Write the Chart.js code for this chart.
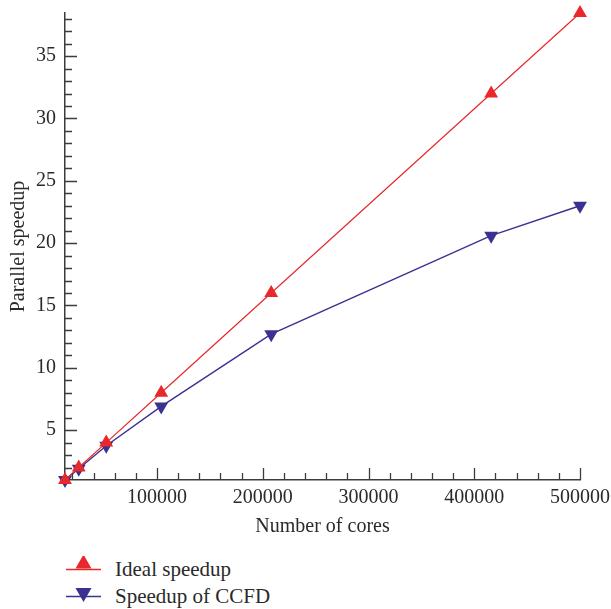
<!DOCTYPE html>
<html>
<head>
<meta charset="utf-8">
<script src="https://cdn.jsdelivr.net/npm/chart.js@4"></script>
<style>
  html, body { margin: 0; padding: 0; background: #fff; }
  #wrap { position: relative; width: 611px; height: 609px; }
  #box { position: absolute; left: 0; top: 0; width: 611px; height: 545px; }
  #legend { position: absolute; left: 66px; top: 556px; font-family: "Liberation Serif", serif; font-size: 21px; color: #2a2a2a; }
  .item { display: flex; align-items: center; height: 27px; }
  .item svg { margin-right: 13px; }
</style>
</head>
<body>
<div id="wrap">
  <div id="box"><canvas id="chart" width="611" height="545"></canvas></div>
  <div id="legend"></div>
</div>
<script>
// Data
const cores = [13000, 26000, 52000, 104000, 208000, 416000, 500000];
const idealSpeedup = [1, 2, 4, 8, 16, 32, 38.46];
const ccfdSpeedup = [1, 1.9, 3.75, 6.9, 12.7, 20.6, 23.0];

const xTicks = [100000, 200000, 300000, 400000, 500000];
const yTicks = [5, 10, 15, 20, 25, 30, 35];

const RED = "#e8282b";
const BLUE = "#3b3190";
const AXIS = "#3c3c3c";
const FONT = "'Liberation Serif', serif";

// Ticks drawn inward (the library only draws them outward)
const innerTicks = {
  id: "innerTicks",
  afterDraw(chart) {
    const { ctx, chartArea, scales } = chart;
    ctx.save();
    ctx.strokeStyle = AXIS;
    ctx.lineWidth = 1.3;
    ctx.beginPath();
    for (let v = 20000; v <= 500000; v += 20000) {
      const px = Math.round(scales.x.getPixelForValue(v)) + 0.5;
      const len = v % 100000 === 0 ? 12 : 7;
      ctx.moveTo(px, chartArea.bottom);
      ctx.lineTo(px, chartArea.bottom - len);
    }
    for (let v = 2; v <= 38; v++) {
      const py = Math.round(scales.y.getPixelForValue(v)) + 0.5;
      const len = v % 5 === 0 ? 12 : 7;
      ctx.moveTo(chartArea.left, py);
      ctx.lineTo(chartArea.left + len, py);
    }
    ctx.stroke();
    ctx.restore();
  }
};

const ctx = document.getElementById("chart").getContext("2d");
const chart = new Chart(ctx, {
  type: "line",
  data: {
    datasets: [
      {
        label: "Ideal speedup",
        data: cores.map((c, i) => ({ x: c, y: idealSpeedup[i] })),
        borderColor: RED,
        backgroundColor: RED,
        borderWidth: 1.2,
        pointStyle: "triangle",
        pointRadius: 8,
        pointBorderWidth: 0,
        clip: false,
      },
      {
        label: "Speedup of CCFD",
        data: cores.map((c, i) => ({ x: c, y: ccfdSpeedup[i] })),
        borderColor: BLUE,
        backgroundColor: BLUE,
        borderWidth: 1.4,
        pointStyle: "triangle",
        pointRotation: 180,
        pointRadius: 8,
        pointBorderWidth: 0,
        clip: false,
      },
    ],
  },
  options: {
    responsive: false,
    animation: false,
    layout: { autoPadding: false, padding: { left: 0, right: 31, top: 13, bottom: 0 } },
    plugins: { legend: { display: false }, tooltip: { enabled: false } },
    scales: {
      x: {
        type: "linear",
        min: 13000,
        max: 500000,
        grid: { display: false, drawTicks: false },
        border: { display: true, color: AXIS, width: 1.5 },
        afterBuildTicks: (s) => { s.ticks = xTicks.map((v) => ({ value: v })); },
        afterFit: (s) => { s.height = 65; s.paddingLeft = 0; s.paddingRight = 0; },
        ticks: {
          padding: 6,
          maxRotation: 0,
          color: "#2a2a2a",
          font: { family: FONT, size: 20 },
          callback: (v) => String(v),
        },
        title: {
          display: true,
          text: "Number of cores",
          color: "#2a2a2a",
          font: { family: FONT, size: 20 },
          padding: { top: 0, bottom: 6 },
        },
      },
      y: {
        type: "linear",
        min: 1,
        max: 38.46,
        grid: { display: false, drawTicks: false },
        border: { display: true, color: AXIS, width: 1.5 },
        afterBuildTicks: (s) => { s.ticks = yTicks.map((v) => ({ value: v })); },
        afterFit: (s) => { s.width = 65; s.paddingTop = 0; s.paddingBottom = 0; },
        ticks: {
          padding: 9,
          color: "#2a2a2a",
          font: { family: FONT, size: 20 },
          callback: (v) => String(v),
        },
        title: {
          display: true,
          text: "Parallel speedup",
          color: "#2a2a2a",
          font: { family: FONT, size: 20 },
          padding: { top: 7, bottom: 0 },
        },
      },
    },
  },
  plugins: [innerTicks],
});

// Legend: short line with the marker, then the label
const legend = document.getElementById("legend");
chart.data.datasets.forEach((ds) => {
  const down = ds.pointRotation === 180;
  const tri = down ? "M76 12 L92 12 L84 26 Z" : "M84 14 L92 28 L76 28 Z";
  const row = document.createElement("div");
  row.className = "item";
  row.innerHTML = `
    <svg width="36" height="27" viewBox="66 6 36 27">
      <line x1="66" y1="19.5" x2="101" y2="19.5" stroke="${ds.borderColor}" stroke-width="1.3"/>
      <path d="${tri}" fill="${ds.backgroundColor}" transform="translate(-0.5 ${down ? -1 : -9.5})"/>
    </svg>
    <span>${ds.label}</span>`;
  legend.appendChild(row);
});
</script>
</body>
</html>
